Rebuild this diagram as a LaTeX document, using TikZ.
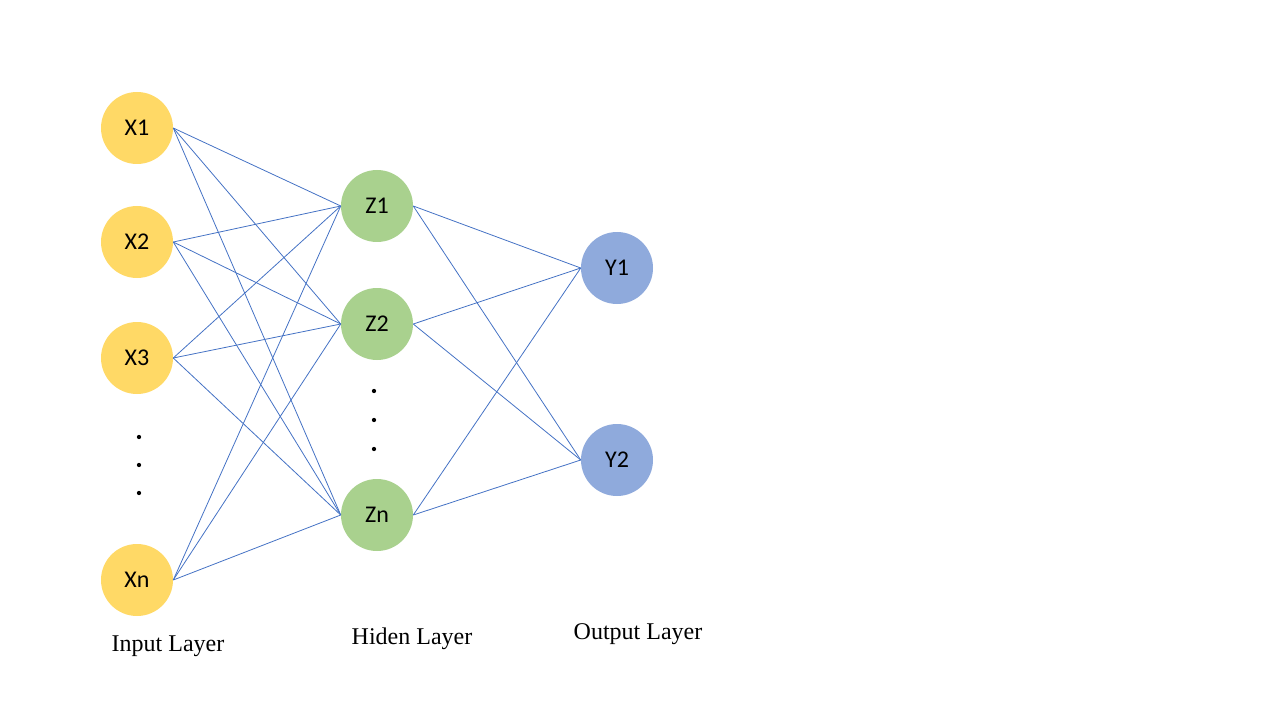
\documentclass[tikz,border=0pt]{standalone}
\usepackage{fontspec}
\setmainfont{Liberation Serif}
\newfontfamily\nodefont{Carlito}
\definecolor{inyel}{HTML}{FFD966}
\definecolor{hidgrn}{HTML}{A9D18E}
\definecolor{outblu}{HTML}{8FAADC}
\definecolor{edgeblu}{HTML}{4472C4}
\begin{document}
\begin{tikzpicture}[x=0.75pt,y=-0.75pt,
  neuron/.style={circle,minimum size=54pt,inner sep=0pt,font=\nodefont\fontsize{18}{20}\selectfont},
  inneuron/.style={neuron,fill=inyel},
  hidneuron/.style={neuron,fill=hidgrn},
  outneuron/.style={neuron,fill=outblu},
  conn/.style={draw=edgeblu,line width=0.6pt},
  dotmark/.style={circle,fill=black,inner sep=0pt,minimum size=3.2pt},
  layerlabel/.style={font=\fontsize{18}{20}\selectfont}]
\useasboundingbox (0,0) rectangle (1280,720);
\node[inneuron] (x1) at (137,128) {X1};
\node[inneuron] (x2) at (137,242) {X2};
\node[inneuron] (x3) at (137,358) {X3};
\node[inneuron] (xn) at (137,580) {Xn};
\node[hidneuron] (z1) at (377,206) {Z1};
\node[hidneuron] (z2) at (377,324) {Z2};
\node[hidneuron] (zn) at (377,515) {Zn};
\node[outneuron] (y1) at (617,268) {Y1};
\node[outneuron] (y2) at (617,460) {Y2};
\node[dotmark] (xd1) at (139,437) {};
\node[dotmark] (xd2) at (139,465) {};
\node[dotmark] (xd3) at (139,493) {};
\node[dotmark] (zd1) at (374,391) {};
\node[dotmark] (zd2) at (374,420) {};
\node[dotmark] (zd3) at (374,449) {};
\foreach \a in {x1,x2,x3,xn}{
  \foreach \b in {z1,z2,zn}{
    \draw[conn] (\a.east) -- (\b.west);
  }
}
\foreach \a in {z1,z2,zn}{
  \foreach \b in {y1,y2}{
    \draw[conn] (\a.east) -- (\b.west);
  }
}
\node[layerlabel] (lin) at (168,646) {Input Layer};
\node[layerlabel] (lhid) at (412,639) {Hiden Layer};
\node[layerlabel] (lout) at (638,634) {Output Layer};
\end{tikzpicture}
\end{document}
